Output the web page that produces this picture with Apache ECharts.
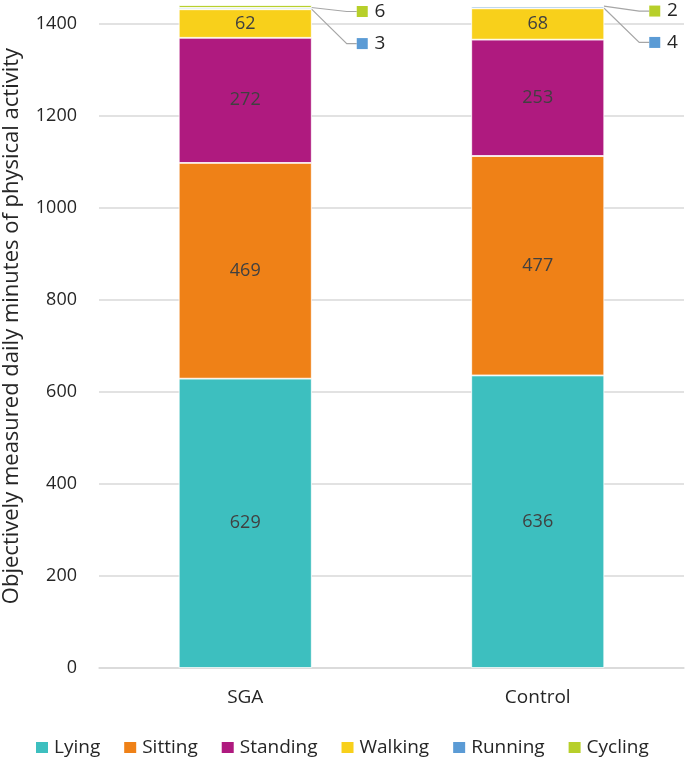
<!DOCTYPE html>
<html><head><meta charset="utf-8">
<script src="https://cdn.jsdelivr.net/npm/echarts@6/dist/echarts.min.js"></script>
<style>html,body{margin:0;padding:0;background:#fff}#c{width:685px;height:757px}</style>
</head><body><div id="c"></div>
<script>
const categories = ['SGA', 'Control'];
const seriesNames = ['Lying', 'Sitting', 'Standing', 'Walking', 'Running', 'Cycling'];
const lying = [629, 636];
const sitting = [469, 477];
const standing = [272, 253];
const walking = [62, 68];
const running = [3, 4];
const cycling = [6, 2];
const yTicks = [0, 200, 400, 600, 800, 1000, 1200, 1400];

const colors = ['#3DBFBF', '#EF8117', '#AF1A7F', '#F8D01B', '#5B9BD5', '#B7CF2A'];
const values = [lying, sitting, standing, walking, running, cycling];
const FONT = 'Open Sans';

const chart = echarts.init(document.getElementById('c'), null, {renderer: 'canvas'});

const series = seriesNames.map((name, i) => {
  const small = i >= 4;
  const s = {
    name, type: 'bar', stack: 'total', barWidth: 133, clip: false,
    data: values[i],
    itemStyle: {color: colors[i], borderColor: '#fff', borderWidth: 0.8},
    label: small ? {
      show: true, position: 'right', distance: 5,
      formatter: p => '{sq|}  {v|' + p.value + '}',
      rich: {
        sq: {backgroundColor: colors[i], width: 11, height: 11},
        v: {fontFamily: FONT, fontSize: 19, color: '#262626'}
      }
    } : {
      show: true, position: 'inside', fontFamily: FONT, fontSize: 18, color: '#404040'
    }
  };
  if (small) {
    s.labelLayout = {dx: 40, dy: i === 5 ? 5 : 35};
    s.labelLine = {show: true, length2: 10, lineStyle: {color: '#A6A6A6', width: 1.2}};
  }
  return s;
});

chart.setOption({
  animation: false,
  grid: {left: 99, right: 1, top: 24, bottom: 89},
  xAxis: {
    type: 'category', data: categories,
    axisLine: {show: true, lineStyle: {color: '#D9D9D9', width: 1.5}},
    axisTick: {show: false},
    axisLabel: {fontFamily: FONT, fontSize: 19, color: '#262626', margin: 20}
  },
  yAxis: {
    type: 'value', min: 0, max: 1400, interval: 200,
    axisLine: {show: false}, axisTick: {show: false},
    splitLine: {lineStyle: {color: '#D9D9D9', width: 1.5}},
    axisLabel: {fontFamily: FONT, fontSize: 18, color: '#262626', margin: 22,
      formatter: v => yTicks.includes(v) ? String(v) : ''}
  },
  legend: {
    data: seriesNames, top: 733, left: 29,
    itemWidth: 14, itemHeight: 13, itemGap: 22, icon: 'rect',
    textStyle: {fontFamily: FONT, fontSize: 19, color: '#262626'}
  },
  graphic: [{
    type: 'text', x: 12, y: 326, rotation: Math.PI / 2,
    style: {text: 'Objectively measured daily minutes of physical activity',
      fontFamily: FONT, fontSize: 22, fill: '#262626', align: 'center', verticalAlign: 'middle'}
  }],
  series
});
</script></body></html>
